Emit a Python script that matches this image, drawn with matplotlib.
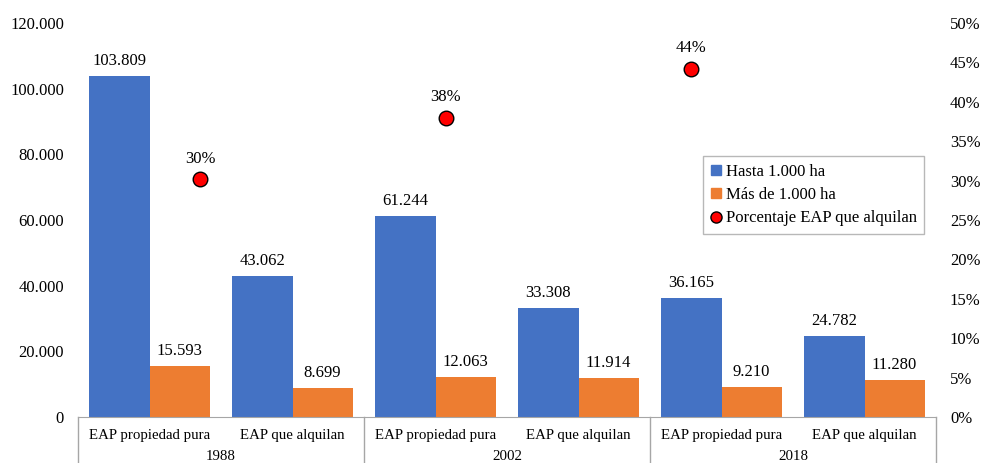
import matplotlib
matplotlib.use("Agg")
import matplotlib.pyplot as plt
from matplotlib.lines import Line2D
from matplotlib.ticker import FuncFormatter, MultipleLocator

# ---- data ----
years = ["1988", "2002", "2018"]
subcats = ["EAP propiedad pura", "EAP que alquilan"]
hasta_1000 = [103809, 43062, 61244, 33308, 36165, 24782]
mas_1000 = [15593, 8699, 12063, 11914, 9210, 11280]
pct_alquilan = [0.302, 0.38, 0.442]
pct_labels = ["30%", "38%", "44%"]

# ---- style ----
BLUE = "#4472C4"
ORANGE = "#ED7D31"
RED = "#FF0000"
GREY = "#A6A6A6"
FONT = "Liberation Serif"
FS = 12
FS_CAT = 10.7
plt.rcParams["font.family"] = [FONT, "DejaVu Serif"]

W, H = 983, 463
fig = plt.figure(figsize=(W / 100, H / 100), dpi=100)
x0, x1, y0, y1 = 78, 936, 417, 23
ax = fig.add_axes([x0 / W, (H - y0) / H, (x1 - x0) / W, (y0 - y1) / H])
ax2 = ax.twinx()

n = len(hasta_1000)
xs = list(range(n))
bw = 0.42
b1 = ax.bar([x - bw / 2 for x in xs], hasta_1000, width=bw, color=BLUE)
b2 = ax.bar([x + bw / 2 for x in xs], mas_1000, width=bw, color=ORANGE)

def fmt_thousands(v):
    return f"{int(round(v)):,}".replace(",", ".")

for bars, vals in ((b1, hasta_1000), (b2, mas_1000)):
    for r, v in zip(bars, vals):
        ax.annotate(fmt_thousands(v), (r.get_x() + r.get_width() / 2, v),
                    xytext=(0, 5), textcoords="offset points",
                    ha="center", va="bottom", fontsize=FS, family=FONT)

ax.set_xlim(-0.5, n - 0.5)
ax.set_ylim(0, 120000)
ax.yaxis.set_major_locator(MultipleLocator(20000))
ax.yaxis.set_major_formatter(FuncFormatter(lambda v, p: fmt_thousands(v)))
ax.tick_params(axis="y", length=0, pad=10, labelsize=FS)
ax.set_xticks([])
for s in ("top", "left", "right"):
    ax.spines[s].set_visible(False)
    ax2.spines[s].set_visible(False)
ax.spines["bottom"].set_color(GREY)
ax2.spines["bottom"].set_visible(False)

# secondary axis: percentages
pct_x = [0.353, 2.07, 3.79]
ax2.set_ylim(0, 0.5)
ax2.yaxis.set_major_locator(MultipleLocator(0.05))
ax2.yaxis.set_major_formatter(FuncFormatter(lambda v, p: f"{v*100:.0f}%"))
ax2.tick_params(axis="y", length=0, pad=10, labelsize=FS)
ax2.plot(pct_x, pct_alquilan, linestyle="none", marker="o", markersize=10.5,
         markerfacecolor=RED, markeredgecolor="black", markeredgewidth=1)
for x, v, lab in zip(pct_x, pct_alquilan, pct_labels):
    ax2.annotate(lab, (x, v), xytext=(0, 9), textcoords="offset points",
                 ha="center", va="bottom", fontsize=FS, family=FONT)

# category labels (two levels)
trans = ax.get_xaxis_transform()
ph = y0 - y1
for i in range(n):
    ax.text(i, -19 / ph, subcats[i % 2], transform=trans, ha="center", va="center",
            fontsize=FS_CAT, family=FONT, clip_on=False)
for j, yr in enumerate(years):
    ax.text(2 * j + 0.5, -43.5 / ph, yr, transform=trans, ha="center", va="baseline",
            fontsize=FS_CAT, family=FONT, clip_on=False)
for k in range(len(years) + 1):
    xb = 2 * k - 0.5
    ax.add_line(Line2D([xb, xb], [0, -60 / ph], transform=trans, color=GREY,
                       linewidth=1, clip_on=False))

# legend
handles = [
    Line2D([], [], linestyle="none", marker="s", markersize=7, markerfacecolor=BLUE, markeredgecolor=BLUE),
    Line2D([], [], linestyle="none", marker="s", markersize=7, markerfacecolor=ORANGE, markeredgecolor=ORANGE),
    Line2D([], [], linestyle="none", marker="o", markersize=8, markerfacecolor=RED, markeredgecolor="black"),
]
labels = ["Hasta 1.000 ha", "Más de 1.000 ha", "Porcentaje EAP que alquilan"]
leg = ax2.legend(handles, labels, loc="upper left",
                 bbox_to_anchor=((703 - x0) / (x1 - x0), (y0 - 156) / ph),
                 frameon=True, fancybox=False, edgecolor=GREY,
                 handlelength=0.7, handletextpad=0.2, borderpad=0.45, labelspacing=0.45,
                 borderaxespad=0, prop={"family": FONT, "size": FS})
leg.get_frame().set_linewidth(1)

fig.savefig("out.png", dpi=100)
